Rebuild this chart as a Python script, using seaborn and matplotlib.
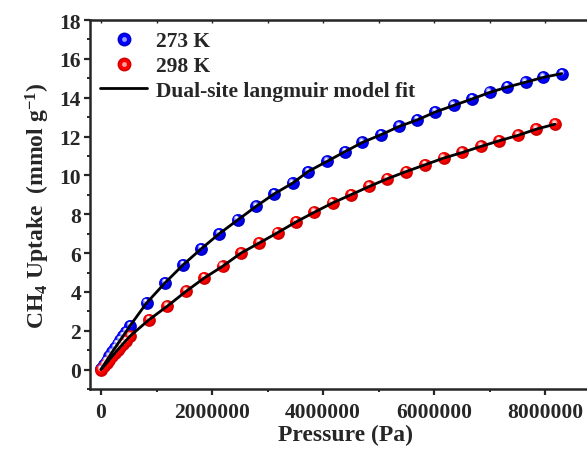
import numpy as np
import pandas as pd
import seaborn as sns
import matplotlib.pyplot as plt
import matplotlib.transforms as mtransforms
from matplotlib.lines import Line2D
from matplotlib.legend_handler import HandlerTuple
from matplotlib.ticker import MultipleLocator

# CH4 isotherm data (pressure in Pa, uptake in mmol/g)
p_273 = [0, 50000, 100000, 150000, 200000, 250000, 300000, 350000, 400000, 450000,
         520000, 820000, 1150000, 1480000, 1800000, 2130000, 2460000, 2790000, 3120000,
         3450000, 3730000, 4070000, 4400000, 4710000, 5040000, 5370000, 5700000, 6020000,
         6350000, 6680000, 7000000, 7320000, 7650000, 7970000, 8300000]
q_273 = [0.02, 0.24, 0.46, 0.68, 0.90, 1.11, 1.32, 1.53, 1.74, 1.95,
         2.25, 3.43, 4.46, 5.40, 6.21, 7.00, 7.70, 8.40, 9.05,
         9.60, 10.20, 10.72, 11.23, 11.70, 12.09, 12.52, 12.86, 13.26,
         13.60, 13.93, 14.27, 14.55, 14.80, 15.05, 15.24]

p_298 = [0, 50000, 100000, 150000, 200000, 250000, 300000, 350000, 400000, 450000,
         520000, 865000, 1190000, 1530000, 1860000, 2190000, 2520000, 2850000, 3180000,
         3510000, 3840000, 4170000, 4500000, 4830000, 5160000, 5500000, 5840000, 6170000,
         6510000, 6840000, 7170000, 7510000, 7840000, 8180000]
q_298 = [0.00, 0.17, 0.34, 0.51, 0.68, 0.85, 1.02, 1.18, 1.34, 1.50,
         1.72, 2.57, 3.26, 4.03, 4.72, 5.32, 6.00, 6.52, 7.05,
         7.60, 8.10, 8.58, 9.00, 9.43, 9.83, 10.20, 10.55, 10.89,
         11.18, 11.49, 11.78, 12.06, 12.38, 12.64]

x_ticks = [0, 2000000, 4000000, 6000000, 8000000]
y_ticks = [0, 2, 4, 6, 8, 10, 12, 14, 16, 18]

df_273 = pd.DataFrame({'p': p_273, 'q': q_273})
df_298 = pd.DataFrame({'p': p_298, 'q': q_298})

sns.set_style('ticks')
plt.rcParams['font.family'] = ['Liberation Serif', 'DejaVu Serif']
plt.rcParams['font.weight'] = 'bold'
plt.rcParams['axes.labelweight'] = 'bold'
plt.rcParams['mathtext.fontset'] = 'custom'
plt.rcParams['mathtext.rm'] = 'Liberation Serif:bold'
plt.rcParams['mathtext.it'] = 'Liberation Serif:bold'
plt.rcParams['mathtext.bf'] = 'Liberation Serif:bold'

fig = plt.figure(figsize=(5.87, 4.52), dpi=100)
# right edge of the frame is cut off in the original, so the axes run past the canvas
ax = fig.add_axes([0.1532, 0.137, 0.87, 0.8165])

# shaded "sphere" markers: dark rim, body, soft light spot, white highlight
t1 = mtransforms.offset_copy(ax.transData, fig=fig, x=-0.8, y=0.8, units='dots')
t2 = mtransforms.offset_copy(ax.transData, fig=fig, x=-1.2, y=2.0, units='dots')
t3 = mtransforms.offset_copy(ax.transData, fig=fig, x=-1.2, y=2.6, units='dots')
spheres = [('#0000c8', '#0000ff', '#8a8aff', df_273),
           ('#d00000', '#ff0000', '#ff9090', df_298)]
for rim, body, light, d in spheres:
    sns.scatterplot(data=d, x='p', y='q', color=rim, s=85, linewidth=0, ax=ax, zorder=2)
    sns.scatterplot(data=d, x='p', y='q', color=body, s=55, linewidth=0, ax=ax,
                    zorder=2.1, transform=t1)
    sns.scatterplot(data=d, x='p', y='q', color=light, s=16, linewidth=0, ax=ax,
                    zorder=2.2, transform=t2)
    sns.scatterplot(data=d, x='p', y='q', color='white', s=4, linewidth=0, alpha=0.9,
                    ax=ax, zorder=2.3, transform=t3)

# fit curves
for d in [df_273, df_298]:
    sns.lineplot(data=d, x='p', y='q', color='black', lw=2.0, sort=False,
                 estimator=None, ax=ax, zorder=3)

ax.set_xlim(-200000, 9000000)
ax.set_ylim(-1, 18)
ax.set_xticks(x_ticks)
ax.set_xticklabels([str(v) for v in x_ticks])
ax.set_yticks(y_ticks)
ax.xaxis.set_minor_locator(MultipleLocator(1000000))
ax.yaxis.set_minor_locator(MultipleLocator(1))
ax.tick_params(which='major', direction='out', length=4.5, width=1.6, labelsize=15.5, pad=2)
ax.tick_params(which='minor', direction='out', length=2.5, width=1.4)
ax.tick_params(axis='x', which='major', pad=5)
for s in ax.spines.values():
    s.set_linewidth(1.8)

top = ax.secondary_xaxis('top')
top.set_xticks(np.arange(0, 9000001, 1000000))
top.tick_params(direction='in', length=2.5, width=1.0, labelsize=0)
top.set_xticklabels([])

ax.set_xlabel('Pressure (Pa)', fontsize=17, fontweight='bold', labelpad=1)
ax.set_ylabel(r'CH$_\mathregular{4}$ Uptake  (mmol g$^\mathregular{-1}$)', fontsize=17,
              fontweight='bold', labelpad=5)

def sphere_handle(rim, body, light):
    h1 = Line2D([], [], ls='none', marker='o', ms=10, mfc=rim, mec='none')
    h2 = Line2D([], [], ls='none', marker='o', ms=8, mfc=body, mec='none')
    h3 = Line2D([], [], ls='none', marker='o', ms=3.5, mfc=light, mec='none')
    return (h1, h2, h3)

handles = [sphere_handle('#0000c8', '#0000ff', '#9a9aff'),
           sphere_handle('#d00000', '#ff0000', '#ffa0a0'),
           Line2D([], [], color='black', lw=2.0)]
labels = ['273 K', '298 K', 'Dual-site langmuir model fit']
ax.legend(handles, labels, loc='upper left', bbox_to_anchor=(0.003, 0.993),
          borderaxespad=0, frameon=False, fontsize=15.5, handlelength=2.2,
          handletextpad=0.4, labelspacing=0.22,
          handler_map={tuple: HandlerTuple(ndivide=1)})

fig.savefig('out.png', dpi=100)
